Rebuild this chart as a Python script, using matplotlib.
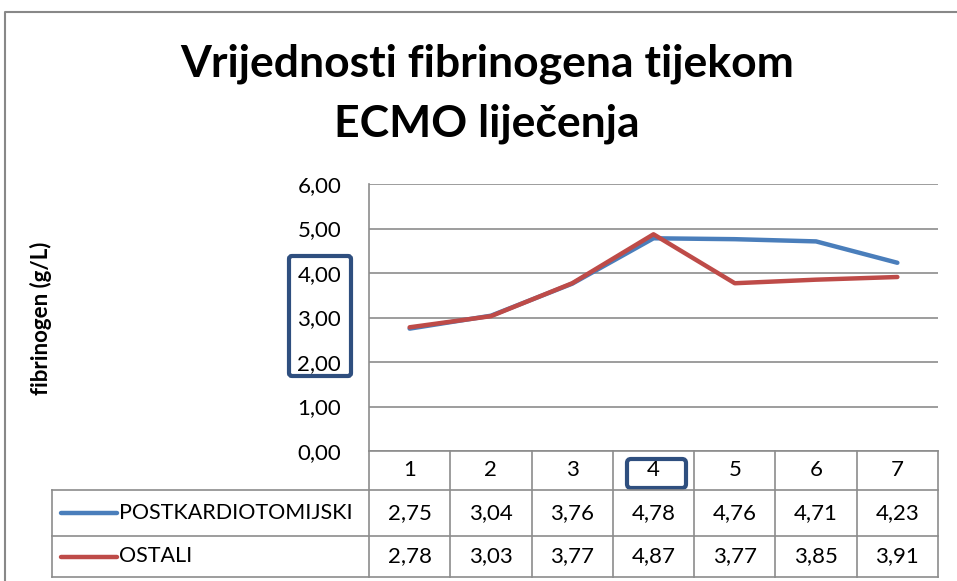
import matplotlib.pyplot as plt
from matplotlib.patches import FancyBboxPatch

days = [1, 2, 3, 4, 5, 6, 7]
post = [2.75, 3.04, 3.76, 4.78, 4.76, 4.71, 4.23]
ostali = [2.78, 3.03, 3.77, 4.87, 3.77, 3.85, 3.91]
series_names = ["POSTKARDIOTOMIJSKI", "OSTALI"]
yticks = [0, 1, 2, 3, 4, 5, 6]

plt.rcParams['font.family'] = ['Lato', 'DejaVu Sans']
blue = '#4A7EBB'
red = '#BE4B48'
box = '#2F4F7F'
grid = '#8C8C8C'


def fmt(v):
    return ('%.2f' % v).replace('.', ',')


W, H = 957, 581
fig = plt.figure(figsize=(W / 100, H / 100), dpi=100)

# plot area in pixels
L, R, T, B = 369, 938, 184, 451
ax = fig.add_axes([L / W, 1 - B / H, (R - L) / W, (B - T) / H])
ax.set_xlim(0.5, 7.5)
ax.set_ylim(0, 6)
ax.set_yticks(yticks)
ax.set_yticklabels([fmt(v) for v in yticks], fontsize=16)
ax.tick_params(axis='y', length=0, pad=20)
ax.set_xticks([])
for s in ['top', 'right', 'bottom']:
    ax.spines[s].set_visible(False)
ax.spines['left'].set_color(grid)
ax.spines['left'].set_linewidth(1.2)
ax.grid(axis='y', color=grid, linewidth=1.2)
ax.set_axisbelow(True)
ax.plot(days, post, color=blue, linewidth=3.2, solid_capstyle='round')
ax.plot(days, ostali, color=red, linewidth=3.2, solid_capstyle='round')

# overlay in pixel coordinates
ov = fig.add_axes([0, 0, 1, 1], zorder=5)
ov.set_xlim(0, W)
ov.set_ylim(H, 0)
ov.axis('off')
ov.patch.set_alpha(0)

# outer chart border
ov.plot([5, 5, W], [H, 12, 12], color='#888888', linewidth=1.5)

ov.text(487, 64, "Vrijednosti fibrinogena tijekom", fontsize=32, fontweight='bold',
        ha='center', va='center')
ov.text(487, 124, "ECMO liječenja", fontsize=32, fontweight='bold',
        ha='center', va='center')
ov.text(41, 318, "fibrinogen (g/L)", fontsize=16, fontweight='bold',
        rotation=90, ha='center', va='center')

# data table
colw = (R - L) / len(days)
rows = [451, 490, 536, 577]
lw = 1.2
ov.plot([L, R], [rows[0], rows[0]], color=grid, linewidth=lw)
for r in rows[1:]:
    ov.plot([52, R], [r, r], color=grid, linewidth=lw)
ov.plot([52, 52], [rows[1], rows[3]], color=grid, linewidth=lw)
for i in range(len(days) + 1):
    x = L + i * colw
    ov.plot([x, x], [rows[0], rows[3]], color=grid, linewidth=lw)
for i, d in enumerate(days):
    xc = L + (i + 0.5) * colw
    ov.text(xc, (rows[0] + rows[1]) / 2, str(d), fontsize=16, ha='center', va='center')
    ov.text(xc, (rows[1] + rows[2]) / 2, fmt(post[i]), fontsize=16, ha='center', va='center')
    ov.text(xc, (rows[2] + rows[3]) / 2, fmt(ostali[i]), fontsize=16, ha='center', va='center')
for j, (name, c) in enumerate(zip(series_names, [blue, red])):
    yc = (rows[j + 1] + rows[j + 2]) / 2
    ov.plot([61, 117], [yc, yc], color=c, linewidth=3.2, solid_capstyle='round')
    ov.text(119, yc, name, fontsize=15.5, ha='left', va='center')

# highlight boxes
ov.add_patch(FancyBboxPatch((289, 256), 62, 120, boxstyle='round,pad=0,rounding_size=3',
                            fill=False, edgecolor=box, linewidth=3))
ov.add_patch(FancyBboxPatch((627, 459), 59, 29, boxstyle='round,pad=0,rounding_size=4',
                            fill=False, edgecolor=box, linewidth=3))

fig.savefig('out.png', dpi=100)
